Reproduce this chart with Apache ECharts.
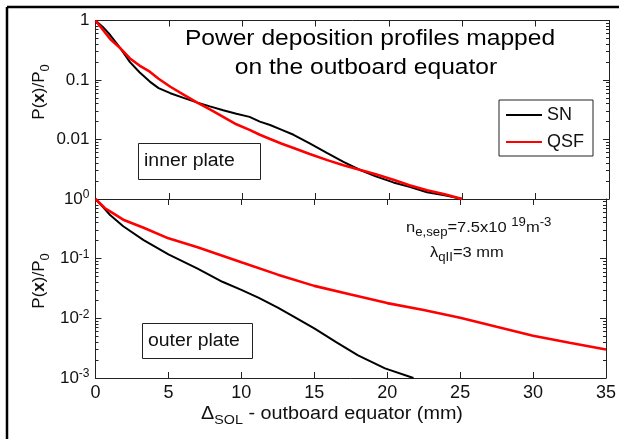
<!DOCTYPE html>
<html>
<head>
<meta charset="utf-8">
<script src="https://cdn.jsdelivr.net/npm/echarts@6/dist/echarts.min.js"></script>
<style>
html,body{margin:0;padding:0;background:#fff;overflow:hidden;}
#chart{width:619px;height:439px;}
</style>
</head>
<body>
<div id="chart"></div>
<script>
// ---- data ----
const xTicks = [0, 5, 10, 15, 20, 25, 30, 35];
const seriesNames = ['SN', 'QSF'];

// inner plate (top panel)
const innerX_SN  = [0, 0.5, 1, 1.7, 2.35, 3.0, 3.7, 4.3, 5.1, 6.0, 6.9, 7.8, 8.7, 9.6, 10.5, 11.2, 11.9, 12.7, 13.5, 14.6, 15.8, 16.9, 18.0, 19.1, 20.3, 21.4, 22.6, 23.8, 25];
const innerSN    = [1, 0.78, 0.57, 0.34, 0.20, 0.135, 0.094, 0.073, 0.060, 0.050, 0.042, 0.036, 0.031, 0.027, 0.024, 0.020, 0.0175, 0.0145, 0.012, 0.0086, 0.0059, 0.0042, 0.0031, 0.0024, 0.0019, 0.0016, 0.0013, 0.00115, 0.001];
const innerX_QSF = [0, 0.5, 1, 1.7, 2.35, 3.0, 3.7, 4.3, 5.1, 6.0, 6.9, 7.8, 8.7, 9.6, 10.5, 11.2, 11.9, 12.7, 13.5, 14.6, 15.8, 16.9, 18.0, 19.1, 20.3, 21.4, 22.6, 23.8, 25];
const innerQSF   = [1, 0.70, 0.49, 0.34, 0.23, 0.175, 0.138, 0.105, 0.077, 0.057, 0.042, 0.032, 0.024, 0.018, 0.0145, 0.012, 0.0102, 0.0085, 0.0072, 0.0057, 0.0045, 0.0037, 0.0031, 0.0026, 0.0021, 0.0017, 0.0014, 0.0012, 0.001];

// outer plate (bottom panel)
const outerX_SN  = [0, 0.5, 1, 1.9, 3.3, 5, 7, 8.7, 10, 11.2, 12.5, 13.5, 15, 16.5, 18, 19.85, 21.8];
const outerSN    = [1, 0.74, 0.54, 0.35, 0.205, 0.118, 0.068, 0.041, 0.030, 0.022, 0.0151, 0.011, 0.0068, 0.0040, 0.0024, 0.00145, 0.001];
const outerX_QSF = [0, 0.65, 1, 1.9, 3.3, 5, 7, 8.7, 10, 12.5, 15, 17.5, 20, 22.5, 25, 27.5, 30, 32.5, 35];
const outerQSF   = [1, 0.70, 0.62, 0.45, 0.33, 0.219, 0.155, 0.112, 0.087, 0.054, 0.035, 0.025, 0.018, 0.0138, 0.0102, 0.0072, 0.0051, 0.0039, 0.003];

const yMajor = [0.001, 0.01, 0.1, 1];
const yMinor = [];
[0.001, 0.01, 0.1].forEach(d => { for (let k = 2; k <= 9; k++) yMinor.push(+(k * d).toPrecision(3)); });

// ---- chart ----
const FONT = '"Liberation Sans", Arial, Helvetica, sans-serif';
const AX = '#222';
const pairs = (xs, ys) => xs.map((x, i) => [x, ys[i]]);

function xAx(grid, pos, labels) {
  return {
    type: 'value', gridIndex: grid, position: pos, min: 0, max: 35, interval: 5,
    axisLine: { show: true, onZero: false, lineStyle: { color: AX, width: 1 } },
    axisTick: { show: true, inside: true, length: 6, lineStyle: { color: AX } },
    axisLabel: { show: labels, margin: 6, fontSize: 18, color: '#111', fontFamily: FONT,
      customValues: xTicks },
    splitLine: { show: false }
  };
}
function yAx(grid, pos, minor, labelFmt, labelVals) {
  const a = {
    type: 'log', logBase: 10, gridIndex: grid, position: pos, min: 0.001, max: 1,
    axisLine: { show: !minor, lineStyle: { color: AX, width: 1 } },
    axisTick: { show: true, inside: true, length: minor ? 3 : 6,
      customValues: minor ? yMinor : yMajor, lineStyle: { color: AX } },
    axisLabel: { show: !!labelFmt },
    splitLine: { show: false }, minorTick: { show: false }
  };
  if (labelFmt) {
    a.axisLabel = {
      show: true, margin: 6, color: '#111', fontFamily: FONT, fontSize: 17,
      customValues: labelVals, formatter: labelFmt,
      rich: {
        b: { fontSize: 17, fontFamily: FONT, color: '#111', lineHeight: 20 },
        s: { fontSize: 12, fontFamily: FONT, color: '#111', lineHeight: 12, verticalAlign: 'top' }
      }
    };
  }
  return a;
}
const topFmt = v => { const e = Math.round(Math.log10(v)); return e === 0 ? '1' : e === -1 ? '0.1' : e === -2 ? '0.01' : ''; };
const botFmt = v => { const e = Math.round(Math.log10(v)); return '{b|10}{s|' + e + '}'; };

const chart = echarts.init(document.getElementById('chart'), null, { renderer: 'canvas' });

const lineCommon = { type: 'line', symbol: 'none', smooth: false };
const richY = {
  n: { fontSize: 17, fontFamily: FONT, fill: '#111', lineHeight: 26, verticalAlign: 'middle' },
  x: { fontSize: 17, fontFamily: FONT, fontWeight: 'bold', fill: '#111', lineHeight: 26, verticalAlign: 'middle' },
  s: { fontSize: 13, fontFamily: FONT, fill: '#111', lineHeight: 13, verticalAlign: 'bottom' }
};

const option = {
  animation: false,
  backgroundColor: '#fff',
  grid: [
    { left: 95.5, top: 20.5, width: 513.5, height: 178.5 },
    { left: 95.5, top: 199, width: 513.5, height: 179 }
  ],
  xAxis: [xAx(0, 'bottom', false), xAx(0, 'top', false), xAx(1, 'bottom', true), xAx(1, 'top', false)],
  yAxis: [
    yAx(0, 'left', false, topFmt, [0.01, 0.1, 1]),
    yAx(0, 'left', true), yAx(0, 'right', false), yAx(0, 'right', true),
    yAx(1, 'left', false, botFmt, yMajor),
    yAx(1, 'left', true), yAx(1, 'right', false), yAx(1, 'right', true)
  ],
  legend: {
    data: seriesNames, left: 499, top: 100, orient: 'vertical',
    icon: 'rect', itemWidth: 36, itemHeight: 2, itemGap: 9,
    padding: [6, 9, 5, 7], borderColor: AX, borderWidth: 1, backgroundColor: '#fff',
    textStyle: { fontSize: 18, color: '#111', fontFamily: FONT }
  },
  series: [
    Object.assign({ name: 'SN', xAxisIndex: 0, yAxisIndex: 0, data: pairs(innerX_SN, innerSN),
      color: '#000', lineStyle: { width: 2, color: '#000' } }, lineCommon),
    Object.assign({ name: 'QSF', xAxisIndex: 0, yAxisIndex: 0, data: pairs(innerX_QSF, innerQSF),
      color: '#ff0000', lineStyle: { width: 2.6, color: '#ff0000' } }, lineCommon),
    Object.assign({ name: 'SN', xAxisIndex: 2, yAxisIndex: 4, data: pairs(outerX_SN, outerSN),
      color: '#000', lineStyle: { width: 2, color: '#000' } }, lineCommon),
    Object.assign({ name: 'QSF', xAxisIndex: 2, yAxisIndex: 4, data: pairs(outerX_QSF, outerQSF),
      color: '#ff0000', lineStyle: { width: 2.6, color: '#ff0000' } }, lineCommon)
  ],
  graphic: [
    // outer figure frame (only top & left edges fall inside the picture)
    { type: 'line', shape: { x1: 7, y1: 7, x2: 619, y2: 7 }, style: { stroke: '#000', lineWidth: 2.5 }, z: 100 },
    { type: 'line', shape: { x1: 7, y1: 7, x2: 7, y2: 439 }, style: { stroke: '#000', lineWidth: 2.5 }, z: 100 },
    // title
    { type: 'text', x: 370, y: 39, scaleX: 1.117, style: { text: 'Power deposition profiles mapped', fontSize: 22, fontFamily: FONT, fill: '#000', textAlign: 'center', textVerticalAlign: 'middle' } },
    { type: 'text', x: 366, y: 67.5, scaleX: 1.117, style: { text: 'on the outboard equator', fontSize: 22, fontFamily: FONT, fill: '#000', textAlign: 'center', textVerticalAlign: 'middle' } },
    // panel labels
    { type: 'rect', shape: { x: 138.5, y: 143.5, width: 122, height: 36 }, style: { fill: '#fff', stroke: AX, lineWidth: 1 } },
    { type: 'text', x: 144, y: 161, scaleX: 1.08, style: { text: 'inner plate', fontSize: 18, fontFamily: FONT, fill: '#111', textAlign: 'left', textVerticalAlign: 'middle' } },
    { type: 'rect', shape: { x: 142.5, y: 323.5, width: 110, height: 35 }, style: { fill: '#fff', stroke: AX, lineWidth: 1 } },
    { type: 'text', x: 148, y: 341, scaleX: 1.08, style: { text: 'outer plate', fontSize: 18, fontFamily: FONT, fill: '#111', textAlign: 'left', textVerticalAlign: 'middle' } },
    // y axis names
    { type: 'text', x: 39, y: 92, rotation: Math.PI / 2, style: {
        text: '{n|P(}{x|x}{n|)/P}{s|0}', textAlign: 'center', textVerticalAlign: 'middle', rich: richY } },
    { type: 'text', x: 39, y: 281, rotation: Math.PI / 2, style: {
        text: '{n|P(}{x|x}{n|)/P}{s|0}', textAlign: 'center', textVerticalAlign: 'middle', rich: richY } },
    // x axis name
    { type: 'text', x: 332, y: 414, scaleX: 1.1, style: {
        text: '{n|Δ}{s|SOL}{n| - outboard equator (mm)}', textAlign: 'center', textVerticalAlign: 'middle',
        rich: { n: { fontSize: 18, fontFamily: FONT, fill: '#111', lineHeight: 26, verticalAlign: 'middle' },
                s: { fontSize: 13, fontFamily: FONT, fill: '#111', lineHeight: 13, verticalAlign: 'bottom' } } } },
    // annotation
    { type: 'text', x: 406, y: 228, scaleX: 1.1, style: {
        text: '{n|n}{s|e,sep}{n|=7.5x10 }{p|19}{n|m}{p|-3}', textAlign: 'left', textVerticalAlign: 'middle',
        rich: { n: { fontSize: 15, fontFamily: FONT, fill: '#111', lineHeight: 22, verticalAlign: 'middle' },
                s: { fontSize: 12, fontFamily: FONT, fill: '#111', lineHeight: 12, verticalAlign: 'bottom' },
                p: { fontSize: 12, fontFamily: FONT, fill: '#111', lineHeight: 12, verticalAlign: 'top' } } } },
    { type: 'text', x: 430, y: 253, scaleX: 1.1, style: {
        text: '{n|λ}{s|qII}{n|=3 mm}', textAlign: 'left', textVerticalAlign: 'middle',
        rich: { n: { fontSize: 15, fontFamily: FONT, fill: '#111', lineHeight: 22, verticalAlign: 'middle' },
                s: { fontSize: 12, fontFamily: FONT, fill: '#111', lineHeight: 12, verticalAlign: 'bottom' } } } }
  ]
};
chart.setOption(option);
</script>
</body>
</html>
